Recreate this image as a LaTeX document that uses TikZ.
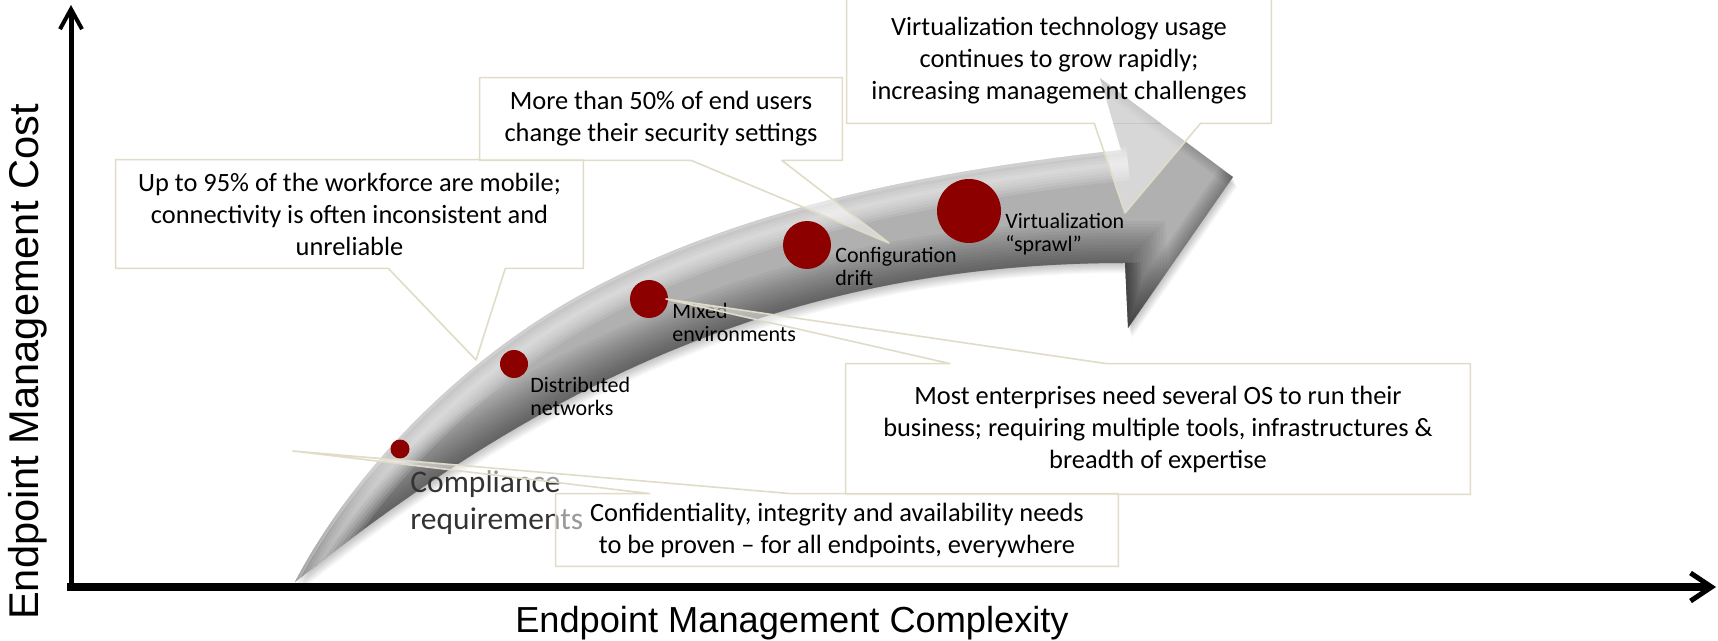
\documentclass[tikz,border=0pt]{standalone}
\usepackage{fontspec}
\setmainfont{Carlito}
\newfontfamily\axisfont{Liberation Sans}
\usetikzlibrary{calc, arrows.meta}

\definecolor{dotred}{RGB}{140,0,0}
\definecolor{calloutline}{RGB}{224,220,200}
\definecolor{bodygray}{RGB}{176,176,176}

% outline of the curved block arrow
\newcommand\arrowshape{(295,582) .. controls (355,467) and (466,357) .. (584,293)
  .. controls (745,205) and (940,170) .. (1121,150) -- (1100,78) -- (1233,177)
  -- (1128,328) -- (1125,263) .. controls (775,263) and (529,396) .. (295,582) -- cycle}
\newcommand\lowerrim{(295,582) .. controls (529,396) and (775,263) .. (1125,263) -- (1128,330)}
\newcommand\upperrim{(295,582) .. controls (355,467) and (466,357) .. (584,293) .. controls (745,205) and (940,170) .. (1121,150)}

\begin{document}
\begin{tikzpicture}[x=0.5pt, y=-0.5pt,
    dot/.style={circle, fill=dotred, inner sep=0pt},
    stage/.style={anchor=north west, inner sep=0pt, align=left, font=\fontsize{11}{11.5}\selectfont},
    callout/.style={fill=white, fill opacity=.5, text opacity=1, inner sep=0pt, align=center, font=\fontsize{13.2}{16}\selectfont},
    edge/.style={draw=calloutline, line width=.8pt, line join=round},
    wedge/.style={fill=white, fill opacity=.5}]
    \path[use as bounding box, fill=white] (0,0) rectangle (1718,641);

    % axes
    \coordinate (origin) at (71,587);
    \coordinate (ytop) at (71,5);
    \coordinate (xend) at (1716,587);
    \draw[line width=2.5pt, -{Straight Barb[length=10pt, width=11pt, line width=2pt]}] (71,591) -- (ytop);
    \draw[line width=4pt, -{Straight Barb[length=10.5pt, width=14pt, line width=2.5pt]}] (67,587) -- (xend);
    \node[font=\axisfont\fontsize{18.1}{22}\selectfont, anchor=base] (xlabel) at (792,632) {Endpoint Management Complexity};
    \node[font=\axisfont\fontsize{20.8}{24}\selectfont, rotate=90, anchor=base] (ylabel) at (38,362) {Endpoint Management Cost};

    % the arrow
    \foreach \s in {1,...,10}
        \fill[black, opacity=.022, shift={(0.4*\s,\s)}] \arrowshape;
    \fill[bodygray] \arrowshape;
    \begin{scope}
        \clip \arrowshape;
        \foreach \w in {3,6,...,42}
            \draw[black, opacity=.035, line width=\w pt] \lowerrim;
        \foreach \w in {2,5,...,17}
            \draw[white, opacity=.12, line width=\w pt, shift={(7,13)}] \upperrim;
        \draw[white, opacity=.25, line width=3pt] \upperrim;
        \foreach \w in {2,4,...,16}
            \draw[black, opacity=.04, line width=\w pt] (1233,177) -- (1128,328) -- (1125,263);
        \foreach \w in {2,4,...,10}
            \draw[black, opacity=.03, line width=\w pt] (1100,78) -- (1233,177);
    \end{scope}

    % stages
    \node[dot, minimum size=9.5pt] (compliance) at (400,449) {};
    \node[dot, minimum size=14pt] (distributed) at (514,364) {};
    \node[dot, minimum size=19pt] (mixed) at (649,299) {};
    \node[dot, minimum size=24pt] (drift) at (807,245) {};
    \node[dot, minimum size=32pt] (sprawl) at (969,211) {};
    \node[stage, font=\fontsize{15.75}{18.5}\selectfont, text=black!80] (complianceText) at (410,470) {Compliance\\requirements};
    \node[stage] (distributedText) at (530,377) {Distributed\\networks};
    \node[stage] (mixedText) at (672,303) {Mixed\\environments};
    \node[stage] (driftText) at (835,247) {Configuration\\drift};
    \node[stage] (sprawlText) at (1005,213) {Virtualization\\“sprawl”};

    % callouts
    \coordinate (mobileTip) at (476,360);
    \coordinate (usersTip) at (889,243);
    \coordinate (virtualTip) at (1125,213);
    \coordinate (platformsTip) at (666,299);
    \coordinate (proofTip) at (293,451);

    \node[callout, minimum width=233.5pt, minimum height=54pt] (mobile) at (349.5,214) {Up to 95\% of the workforce are mobile;\\connectivity is often inconsistent and\\unreliable};
    \fill[wedge] ($(mobile.south west)!.583!(mobile.south east)$) -- (mobileTip) -- ($(mobile.south west)!.833!(mobile.south east)$) -- cycle;
    \draw[edge] (mobile.north west) -- (mobile.north east) -- (mobile.south east) -- ($(mobile.south west)!.833!(mobile.south east)$) -- (mobileTip) -- ($(mobile.south west)!.583!(mobile.south east)$) -- (mobile.south west) -- cycle;

    \node[callout, minimum width=181pt, minimum height=41pt] (users) at (661,119) {More than 50\% of end users\\change their security settings};
    \fill[wedge] ($(users.south west)!.583!(users.south east)$) -- (usersTip) -- ($(users.south west)!.833!(users.south east)$) -- cycle;
    \draw[edge] (users.north west) -- (users.north east) -- (users.south east) -- ($(users.south west)!.833!(users.south east)$) -- (usersTip) -- ($(users.south west)!.583!(users.south east)$) -- (users.south west) -- cycle;

    \node[callout, minimum width=212pt, minimum height=62.5pt] (virtual) at (1059,60.5) {Virtualization technology usage\\continues to grow rapidly;\\increasing management challenges};
    \fill[wedge] ($(virtual.south west)!.583!(virtual.south east)$) -- (virtualTip) -- ($(virtual.south west)!.833!(virtual.south east)$) -- cycle;
    \draw[edge] (virtual.north west) -- (virtual.north east) -- (virtual.south east) -- ($(virtual.south west)!.833!(virtual.south east)$) -- (virtualTip) -- ($(virtual.south west)!.583!(virtual.south east)$) -- (virtual.south west) -- cycle;

    \node[callout, minimum width=312pt, minimum height=65pt] (platforms) at (1158,429) {Most enterprises need several OS to run their\\business; requiring multiple tools, infrastructures \&\\breadth of expertise};
    \fill[wedge] ($(platforms.north west)!.167!(platforms.north east)$) -- (platformsTip) -- ($(platforms.north west)!.417!(platforms.north east)$) -- cycle;
    \draw[edge] (platforms.south west) -- (platforms.south east) -- (platforms.north east) -- ($(platforms.north west)!.417!(platforms.north east)$) -- (platformsTip) -- ($(platforms.north west)!.167!(platforms.north east)$) -- (platforms.north west) -- cycle;

    \node[callout, minimum width=281pt, minimum height=36pt] (proof) at (837,530) {Confidentiality, integrity and availability needs\\to be proven – for all endpoints, everywhere};
    \fill[wedge] ($(proof.north west)!.167!(proof.north east)$) -- (proofTip) -- ($(proof.north west)!.417!(proof.north east)$) -- cycle;
    \draw[edge] (proof.south west) -- (proof.south east) -- (proof.north east) -- ($(proof.north west)!.417!(proof.north east)$) -- (proofTip) -- ($(proof.north west)!.167!(proof.north east)$) -- (proof.north west) -- cycle;
\end{tikzpicture}
\end{document}
